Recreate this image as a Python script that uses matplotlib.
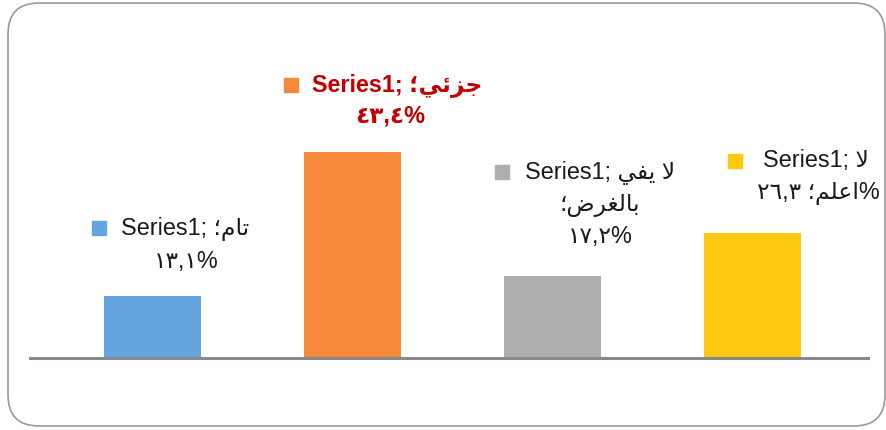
import matplotlib.pyplot as plt
from matplotlib.patches import FancyBboxPatch
from matplotlib.transforms import offset_copy

# data
categories = ["تام", "جزئي", "لا يفي بالغرض", "لا اعلم"]
values = [13.1, 43.4, 17.2, 26.3]
colors = ["#64A4DF", "#F7893B", "#AEAEAE", "#FFC911"]

# label lines, written in visual (shaped, left-to-right) order
label_lines = [
    ["Series1; ؛ﻡﺎﺗ", "١٣,١%"],
    ["Series1; ؛ﻲﺋﺰﺟ", "٤٣,٤%"],
    ["Series1; ﻲﻔﻳ ﻻ", "؛ﺽﺮﻐﻟﺎﺑ", "١٧,٢%"],
    ["Series1; ﻻ", "٢٦,٣ ؛ﻢﻠﻋﺍ%"],
]
# offsets (pixels) of label lines and key square from bar top
line_dx = [[33, 34], [45, 38], [48, 47, 48], [64, 66]]
line_dy = [[67, 34], [67, 36], [103, 71, 40], [73, 41]]
key_off = [(-53, 68), (-61, 67), (-50, 104), (-17, 72)]

plt.rcParams['font.family'] = ['Liberation Sans', 'DejaVu Sans']

fig = plt.figure(figsize=(8.87, 4.30), dpi=100)
ax = fig.add_axes([30 / 887, 1 - 358 / 430, 838 / 887, 338 / 430])

x = list(range(len(values)))
ax.bar(x, values, width=0.485, color=colors, zorder=2)
ax.set_xlim(-0.6125, 3.578)
ax.set_ylim(0, 71.3)

for s in ["top", "right", "left"]:
    ax.spines[s].set_visible(False)
ax.spines["bottom"].set_color("#898989")
ax.spines["bottom"].set_linewidth(2.2)
ax.spines["bottom"].set_zorder(3)
ax.set_xticks([])
ax.set_yticks([])

for i, v in enumerate(values):
    bold = i == 1
    tcolor = "#C00000" if bold else "#1a1a1a"
    for line, dx, dy in zip(label_lines[i], line_dx[i], line_dy[i]):
        ax.annotate(line, xy=(i, v), xytext=(dx, dy), textcoords="offset pixels",
                    ha="center", va="center", fontsize=16.8, color=tcolor,
                    fontweight="bold" if bold else "normal")
    kx, ky = key_off[i]
    tr = offset_copy(ax.transData, fig=fig, x=kx, y=ky, units="dots")
    ax.plot([i], [v], marker="s", markersize=9.8, color=colors[i],
            linestyle="none", transform=tr, clip_on=False)

# rounded frame around the chart
frame = FancyBboxPatch((8 / 887, 4 / 430), 877 / 887, 423 / 430,
                       boxstyle="round,pad=0,rounding_size=0.035",
                       transform=fig.transFigure, fc="none", ec="#9a9a9a",
                       lw=1.2, mutation_aspect=887 / 430)
fig.patches.append(frame)

fig.savefig("out.png", dpi=100)
